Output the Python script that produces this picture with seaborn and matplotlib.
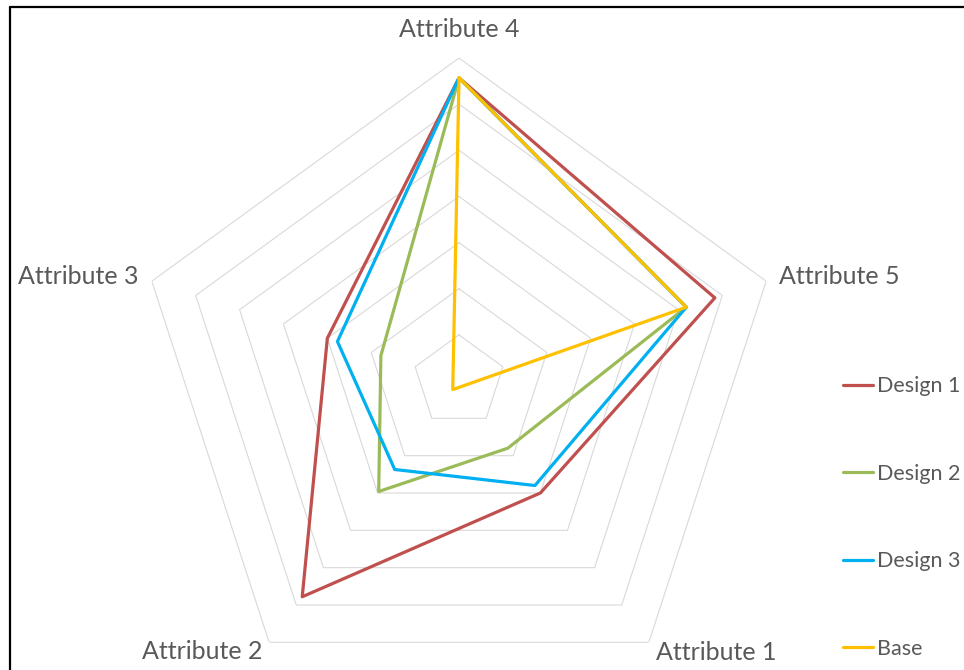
import numpy as np
import pandas as pd
import matplotlib
matplotlib.use("Agg")
import matplotlib.pyplot as plt
from matplotlib.lines import Line2D
import seaborn as sns

# ---- data (clockwise from top) ----
categories = ["Attribute 4", "Attribute 5", "Attribute 1", "Attribute 2", "Attribute 3"]
series_names = ["Design 1", "Design 2", "Design 3", "Base"]
design1 = [6.57, 5.83, 3.00, 5.78, 3.00]
design2 = [6.57, 5.18, 1.80, 2.96, 1.78]
design3 = [6.57, 5.18, 2.80, 2.37, 2.77]
base = [6.57, 5.18, np.nan, 0.23, np.nan]
ring_levels = [1, 2, 3, 4, 5, 6, 7]
colors = ["#C0504D", "#9BBB59", "#00B0F0", "#FFC000"]

sns.set_theme(style="white")
plt.rcParams["font.family"] = ["Lato", "DejaVu Sans"]

n = len(categories)
angles = np.arange(n) * 2 * np.pi / n

rows = []
for name, vals in zip(series_names, [design1, design2, design3, base]):
    pts = [(a, v) for a, v in zip(angles, vals) if not np.isnan(v)]
    pts.append((pts[0][0] + 2 * np.pi, pts[0][1]))
    for order, (a, v) in enumerate(pts):
        rows.append({"series": name, "theta": a, "value": v, "order": order})
df = pd.DataFrame(rows)

fig = plt.figure(figsize=(9.64, 6.70), dpi=100)
W, H = 964, 670
cx, cy, R = 459, 381, 323
ax = fig.add_axes([(cx - R) / W, (H - cy - R) / H, 2 * R / W, 2 * R / H],
                  projection="polar")
ax.set_theta_zero_location("N")
ax.set_theta_direction(-1)
ax.set_ylim(0, 7)
ax.grid(False)
ax.spines["polar"].set_visible(False)
ax.set_xticks([])
ax.set_yticks([])
ax.patch.set_alpha(0)

# polygon gridlines
ring_theta = np.append(angles, angles[0] + 2 * np.pi)
for lev in ring_levels:
    ax.plot(ring_theta, [lev] * len(ring_theta), color="#D9D9D9", lw=0.8, zorder=1)

sns.lineplot(data=df, x="theta", y="value", hue="series", hue_order=series_names,
             palette=colors, sort=False, estimator=None, lw=2.3, ax=ax,
             legend=True, zorder=3)
ax.set_xlabel("")
ax.set_ylabel("")

# category labels
label_color = "#595959"
lab_fs = 18
ax.text(angles[0], 7.62, categories[0], ha="center", va="center", fontsize=lab_fs, color=label_color)
ax.text(angles[1], 7.3, categories[1], ha="left", va="center", fontsize=lab_fs, color=label_color)
ax.text(angles[2], 7.27, categories[2], ha="left", va="center", fontsize=lab_fs, color=label_color)
ax.text(angles[3], 7.25, categories[3], ha="right", va="center", fontsize=lab_fs, color=label_color)
ax.text(angles[4], 7.3, categories[4], ha="right", va="center", fontsize=lab_fs, color=label_color)

sns.move_legend(ax, "center left", bbox_to_anchor=(843 / W, 1 - 517.5 / H),
                bbox_transform=fig.transFigure, frameon=False, title=None,
                fontsize=15.5, labelspacing=3.13, handlelength=1.38,
                handletextpad=0.22, borderpad=0, borderaxespad=0)
for t in ax.get_legend().get_texts():
    t.set_color(label_color)

# chart frame (top and left edges)
fig.add_artist(Line2D([10 / W, 1], [1 - 7 / H, 1 - 7 / H], transform=fig.transFigure,
                      color="black", lw=1.6))
fig.add_artist(Line2D([10 / W, 10 / W], [0, 1 - 7 / H], transform=fig.transFigure,
                      color="black", lw=1.6))

fig.savefig("out.png", dpi=100)
